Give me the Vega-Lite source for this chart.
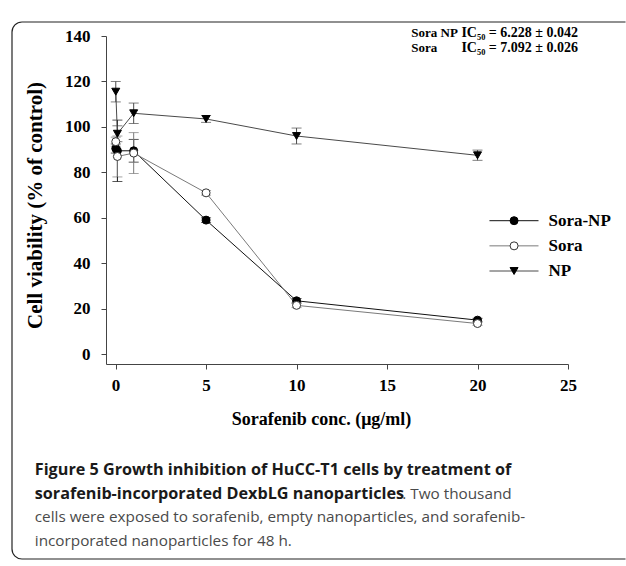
{
  "$schema": "https://vega.github.io/schema/vega-lite/v6.json",
  "width": 462,
  "height": 328,
  "autosize": {"type": "none"},
  "padding": {"left": 106, "top": 36, "right": 58, "bottom": 196},
  "background": "white",
  "config": {"view": {"stroke": null}},
  "datasets": {
    "viability": [
      {"series": "Sora-NP", "conc": 0.01, "viability": 90.5, "lo": 88.5, "hi": 92.5},
      {"series": "Sora-NP", "conc": 0.1, "viability": 89.5, "lo": 76, "hi": 103},
      {"series": "Sora-NP", "conc": 1, "viability": 89.5, "lo": 84.5, "hi": 94.5},
      {"series": "Sora-NP", "conc": 5, "viability": 59, "lo": 58, "hi": 60},
      {"series": "Sora-NP", "conc": 10, "viability": 23.5, "lo": 22.5, "hi": 24.5},
      {"series": "Sora-NP", "conc": 20, "viability": 15, "lo": 14.2, "hi": 15.8},
      {"series": "Sora", "conc": 0.01, "viability": 93.5, "lo": 91.5, "hi": 95.5},
      {"series": "Sora", "conc": 0.1, "viability": 87, "lo": 78, "hi": 96},
      {"series": "Sora", "conc": 1, "viability": 88.5, "lo": 79.5, "hi": 97.5},
      {"series": "Sora", "conc": 5, "viability": 71, "lo": 70, "hi": 72},
      {"series": "Sora", "conc": 10, "viability": 21.5, "lo": 20.5, "hi": 22.5},
      {"series": "Sora", "conc": 20, "viability": 13.5, "lo": 12.7, "hi": 14.3},
      {"series": "NP", "conc": 0.01, "viability": 115.5, "lo": 111, "hi": 120},
      {"series": "NP", "conc": 0.1, "viability": 97, "lo": 93.5, "hi": 100.5},
      {"series": "NP", "conc": 1, "viability": 106, "lo": 101.5, "hi": 110.5},
      {"series": "NP", "conc": 5, "viability": 103.5, "lo": 102, "hi": 105},
      {"series": "NP", "conc": 10, "viability": 96, "lo": 92.5, "hi": 99.5},
      {"series": "NP", "conc": 20, "viability": 87.5, "lo": 85.3, "hi": 89.8}
    ],
    "legend": [
      {"series": "Sora-NP"},
      {"series": "Sora"},
      {"series": "NP"}
    ],
    "ic50": [
      {"line": 1, "name": "Sora NP", "ic": "IC₅₀ = 6.228 ± 0.042"},
      {"line": 2, "name": "Sora", "ic": "IC₅₀ = 7.092 ± 0.026"}
    ],
    "caption": [
      {"line": 1, "part": "bold", "text": "Figure 5 Growth inhibition of HuCC-T1 cells by treatment of"},
      {"line": 2, "part": "bold", "text": "sorafenib-incorporated DexbLG nanoparticles"},
      {"line": 2, "part": "cont", "text": ". Two thousand"},
      {"line": 3, "part": "normal", "text": "cells were exposed to sorafenib, empty nanoparticles, and sorafenib-"},
      {"line": 4, "part": "normal", "text": "incorporated nanoparticles for 48 h."}
    ]
  },
  "layer": [
    {
      "layer": [
        {
          "data": {"values": [{}]},
          "mark": {"type": "rule", "stroke": "#222", "strokeWidth": 1.2, "clip": false},
          "encoding": {
            "x": {"datum": -5.1718, "type": "quantitative", "scale": {"domain": [-0.53, 25], "nice": false, "zero": false}},
            "x2": {"datum": 28.178},
            "y": {"datum": 146.159, "type": "quantitative", "scale": {"domain": [-4.3, 140], "nice": false, "zero": false}}
          }
        },
        {
          "data": {"values": [{}]},
          "mark": {"type": "rule", "stroke": "#222", "strokeWidth": 1.2, "clip": false},
          "encoding": {
            "x": {"datum": -5.1718, "type": "quantitative"},
            "x2": {"datum": 28.178},
            "y": {"datum": -90.09, "type": "quantitative"}
          }
        },
        {
          "data": {"values": [{}]},
          "mark": {"type": "rule", "stroke": "#222", "strokeWidth": 1.2, "clip": false},
          "encoding": {
            "x": {"datum": -5.7244, "type": "quantitative"},
            "y": {"datum": 141.76, "type": "quantitative"},
            "y2": {"datum": -85.69}
          }
        },
        {
          "data": {"values": [{}]},
          "mark": {"type": "arc", "filled": false, "stroke": "#222", "strokeWidth": 1.2, "theta": -1.5708, "theta2": 0, "radius": 10, "radius2": 10, "clip": false},
          "encoding": {
            "x": {"datum": -5.1718, "type": "quantitative"},
            "y": {"datum": 141.76, "type": "quantitative"}
          }
        },
        {
          "data": {"values": [{}]},
          "mark": {"type": "arc", "filled": false, "stroke": "#222", "strokeWidth": 1.2, "theta": 3.1416, "theta2": 4.7124, "radius": 10, "radius2": 10, "clip": false},
          "encoding": {
            "x": {"datum": -5.1718, "type": "quantitative"},
            "y": {"datum": -85.69, "type": "quantitative"}
          }
        },
        {
          "data": {"name": "viability"},
          "mark": {"type": "errorbar", "ticks": {"size": 10}, "thickness": 1},
          "encoding": {
            "x": {"field": "conc", "type": "quantitative", "title": "Sorafenib conc. (μg/ml)"},
            "y": {"field": "lo", "type": "quantitative", "title": "Cell viability (% of control)"},
            "y2": {"field": "hi"},
            "color": {"field": "series", "type": "nominal", "scale": {"domain": ["Sora-NP", "Sora", "NP"], "range": ["#111111", "#7a7a7a", "#4a4a4a"]}, "legend": null}
          }
        },
        {
          "data": {"name": "viability"},
          "mark": {"type": "line", "strokeWidth": 1},
          "encoding": {
            "x": {"field": "conc", "type": "quantitative", "title": "Sorafenib conc. (μg/ml)"},
            "y": {"field": "viability", "type": "quantitative", "title": "Cell viability (% of control)"},
            "color": {"field": "series", "type": "nominal", "legend": null},
            "order": {"field": "conc"}
          }
        },
        {
          "data": {"name": "viability"},
          "mark": {"type": "point", "filled": true, "size": 64, "strokeWidth": 1, "opacity": 1},
          "encoding": {
            "x": {
              "field": "conc", "type": "quantitative", "title": "Sorafenib conc. (μg/ml)",
              "axis": {
                "values": [0, 5, 10, 15, 20, 25], "format": "d", "grid": false,
                "domainColor": "#444", "tickColor": "#444", "tickSize": 5,
                "labelFont": "Liberation Serif", "labelFontWeight": "bold", "labelFontSize": 17, "labelColor": "#000",
                "labelPadding": 8, "labelFlush": false,
                "titleFont": "Liberation Serif", "titleFontWeight": "bold", "titleFontSize": 18, "titleColor": "#000",
                "titleX": 215, "titleY": 60, "titleBaseline": "alphabetic", "titleAlign": "center"
              }
            },
            "y": {
              "field": "viability", "type": "quantitative", "title": "Cell viability (% of control)",
              "axis": {
                "values": [0, 20, 40, 60, 80, 100, 120, 140], "grid": false,
                "domainColor": "#444", "tickColor": "#444", "tickSize": 5,
                "labelFont": "Liberation Serif", "labelFontWeight": "bold", "labelFontSize": 17, "labelColor": "#000",
                "labelPadding": 11,
                "titleFont": "Liberation Serif", "titleFontWeight": "bold", "titleFontSize": 21, "titleColor": "#000",
                "titleX": -71, "titleY": 169, "titleAngle": -90, "titleBaseline": "middle", "titleAlign": "center"
              }
            },
            "shape": {"field": "series", "type": "nominal", "scale": {"domain": ["Sora-NP", "Sora", "NP"], "range": ["circle", "circle", "triangle-down"]}, "legend": null},
            "fill": {"field": "series", "type": "nominal", "scale": {"domain": ["Sora-NP", "Sora", "NP"], "range": ["#000000", "#ffffff", "#000000"]}, "legend": null},
            "stroke": {"field": "series", "type": "nominal", "scale": {"domain": ["Sora-NP", "Sora", "NP"], "range": ["#000000", "#333333", "#000000"]}, "legend": null}
          }
        }
      ]
    },
    {
      "data": {"name": "legend"},
      "encoding": {
        "y": {"field": "series", "type": "nominal", "scale": {"type": "point", "domain": ["Sora-NP", "Sora", "NP"], "range": [184.7, 235], "padding": 0}, "axis": null}
      },
      "layer": [
        {
          "mark": {"type": "rule", "strokeWidth": 1},
          "encoding": {
            "x": {"datum": 20.66, "type": "quantitative", "scale": {"domain": [-0.53, 25], "nice": false, "zero": false}},
            "x2": {"datum": 23.37},
            "color": {"field": "series", "type": "nominal", "legend": null}
          }
        },
        {
          "mark": {"type": "point", "filled": true, "size": 64, "strokeWidth": 1, "opacity": 1},
          "encoding": {
            "x": {"datum": 22.02, "type": "quantitative", "scale": {"domain": [-0.53, 25], "nice": false, "zero": false}},
            "shape": {"field": "series", "type": "nominal", "legend": null},
            "fill": {"field": "series", "type": "nominal", "legend": null},
            "stroke": {"field": "series", "type": "nominal", "legend": null}
          }
        },
        {
          "mark": {"type": "text", "align": "left", "baseline": "middle", "font": "Liberation Serif", "fontWeight": "bold", "fontSize": 17, "color": "#000"},
          "encoding": {
            "x": {"datum": 23.92, "type": "quantitative", "scale": {"domain": [-0.53, 25], "nice": false, "zero": false}},
            "text": {"field": "series"}
          }
        }
      ]
    },
    {
      "data": {"name": "caption"},
      "encoding": {
        "y": {"field": "line", "type": "quantitative", "scale": {"domain": [-17.547, -3.69], "reverse": true, "nice": false, "zero": false}, "axis": null},
        "text": {"field": "text"}
      },
      "layer": [
        {
          "transform": [{"filter": "datum.part === 'bold'"}],
          "mark": {"type": "text", "align": "left", "baseline": "alphabetic", "font": "Open Sans", "fontWeight": "bold", "fontSize": 16.2, "color": "#1a1a1a"},
          "encoding": {"x": {"datum": -4.466, "type": "quantitative", "scale": {"domain": [-0.53, 25], "nice": false, "zero": false}}}
        },
        {
          "transform": [{"filter": "datum.part === 'normal'"}],
          "mark": {"type": "text", "align": "left", "baseline": "alphabetic", "font": "Open Sans", "fontSize": 15.3, "color": "#4a4a4a"},
          "encoding": {"x": {"datum": -4.466, "type": "quantitative", "scale": {"domain": [-0.53, 25], "nice": false, "zero": false}}}
        },
        {
          "transform": [{"filter": "datum.part === 'cont'"}],
          "mark": {"type": "text", "align": "left", "baseline": "alphabetic", "font": "Open Sans", "fontSize": 15.3, "color": "#4a4a4a"},
          "encoding": {"x": {"datum": 15.84, "type": "quantitative", "scale": {"domain": [-0.53, 25], "nice": false, "zero": false}}}
        }
      ]
    },
    {
      "data": {"name": "ic50"},
      "encoding": {
        "y": {"field": "line", "type": "quantitative", "scale": {"domain": [0.91, 23.69], "reverse": true, "nice": false, "zero": false}, "axis": null}
      },
      "layer": [
        {
          "mark": {"type": "text", "align": "left", "baseline": "alphabetic", "font": "Liberation Serif", "fontWeight": "bold", "fontSize": 13, "color": "#000"},
          "encoding": {"x": {"datum": 16.34, "type": "quantitative", "scale": {"domain": [-0.53, 25], "nice": false, "zero": false}}, "text": {"field": "name"}}
        },
        {
          "mark": {"type": "text", "align": "left", "baseline": "alphabetic", "font": "Liberation Serif", "fontWeight": "bold", "fontSize": 14, "color": "#000"},
          "encoding": {"x": {"datum": 19.11, "type": "quantitative", "scale": {"domain": [-0.53, 25], "nice": false, "zero": false}}, "text": {"field": "ic"}}
        }
      ]
    }
  ],
  "resolve": {"scale": {"y": "independent"}}
}
